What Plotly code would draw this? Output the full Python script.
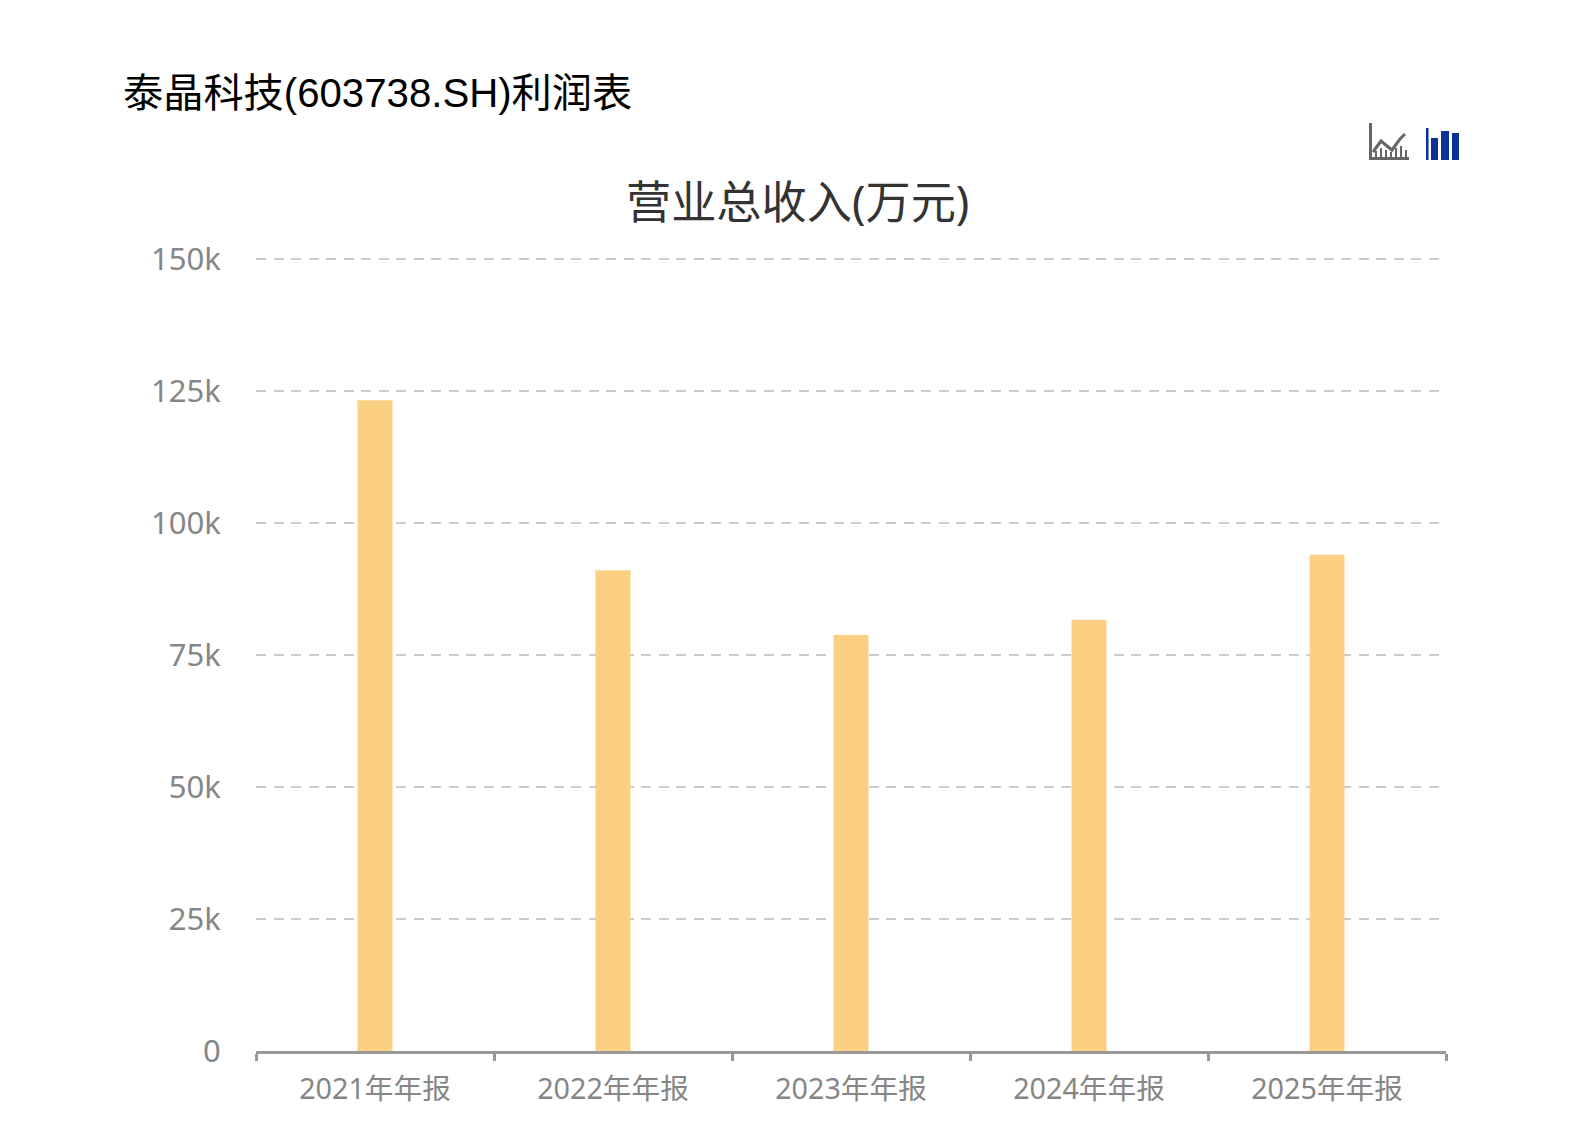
import plotly.graph_objects as go

categories = ["2021年年报", "2022年年报", "2023年年报", "2024年年报", "2025年年报"]
revenue = [123300, 91100, 78800, 81700, 94000]
y_ticks = [0, 25000, 50000, 75000, 100000, 125000, 150000]
y_labels = ["0", "25k", "50k", "75k", "100k", "125k", "150k"]
page_title = "泰晶科技(603738.SH)利润表"
chart_title = "营业总收入(万元)"

W, H = 1596, 1146
# plot area in page pixels
L, R, T, B = 256, 150, 254, 95
PW, PH = W - L - R, H - T - B
SANS = "'Noto Sans', 'Noto Sans CJK SC', sans-serif"


def px(x):
    return (x - L) / PW


def py(y):
    return 1 - (y - T) / PH


def rect(x0, y0, x1, y1, color):
    return dict(type="rect", xref="paper", yref="paper", x0=px(x0), x1=px(x1),
                y0=py(y1), y1=py(y0), fillcolor=color, line_width=0, layer="above")


def poly(points, color, width):
    return dict(type="path", xref="paper", yref="paper", layer="above",
                path="M " + " L ".join(f"{px(a):.5f},{py(b):.5f}" for a, b in points),
                line=dict(color=color, width=width), fillcolor="rgba(0,0,0,0)")


GREY = "#666666"
BLUE = "#0a3296"
shapes = [
    # line-chart icon
    rect(1369, 123, 1372, 160, GREY),
    rect(1369, 157, 1409, 160, GREY),
    poly([(1373, 152), (1381, 141), (1387, 146), (1392, 150), (1400, 139), (1405, 134)], GREY, 3),
    rect(1375, 151, 1377, 158, GREY), rect(1380, 148, 1382, 158, GREY),
    rect(1385, 150, 1387, 158, GREY), rect(1390, 152, 1392, 158, GREY),
    rect(1395, 148, 1397, 158, GREY), rect(1400, 146, 1402, 158, GREY),
    rect(1405, 150, 1407, 158, GREY),
    # bar-chart icon
    rect(1426, 128, 1428.5, 160, BLUE),
    rect(1431, 138, 1438, 160, BLUE),
    rect(1441, 131, 1449, 160, BLUE),
    rect(1452, 133, 1459, 160, BLUE),
]

fig = go.Figure(go.Bar(x=categories, y=revenue, width=0.147,
                       marker=dict(color="#fcd083", line_width=0), hoverinfo="x+y"))

fig.update_layout(
    width=W, height=H, autosize=False,
    margin=dict(l=L, r=R, t=T, b=B, pad=0),
    paper_bgcolor="white", plot_bgcolor="white",
    showlegend=False, bargap=0.85,
    font=dict(family=SANS, color="#868686", size=28),
    shapes=shapes,
    annotations=[
        dict(text=page_title, xref="paper", yref="paper", x=px(121), y=py(93),
             xanchor="left", yanchor="middle", showarrow=False,
             font=dict(family="'Liberation Sans', 'Noto Sans CJK SC', sans-serif", size=40.2, color="#000000")),
        dict(text=chart_title, xref="paper", yref="paper", x=px(797), y=py(202),
             xanchor="center", yanchor="middle", showarrow=False,
             font=dict(family=SANS, size=45.2, color="#333333")),
    ],
)
fig.update_xaxes(type="category", tickson="boundaries", ticks="outside", ticklen=7,
                 tickwidth=2.5, tickcolor="#999999", showline=True, linewidth=2.5, linecolor="#999999",
                 showgrid=False, tickfont=dict(size=28.7, color="#868686"), ticklabelstandoff=11,
                 fixedrange=True)
fig.update_yaxes(range=[0, 151000], tickmode="array", tickvals=y_ticks, ticktext=y_labels,
                 showgrid=True, gridcolor="#cccccc", gridwidth=2, griddash="10px,7.5px",
                 zeroline=False, showline=False, ticks="outside", ticklen=28, tickcolor="rgba(0,0,0,0)",
                 tickfont=dict(size=31, color="#868686"), fixedrange=True)

fig.write_html("out.html", config=dict(displayModeBar=False),
               post_script="document.body.style.margin='0';")
